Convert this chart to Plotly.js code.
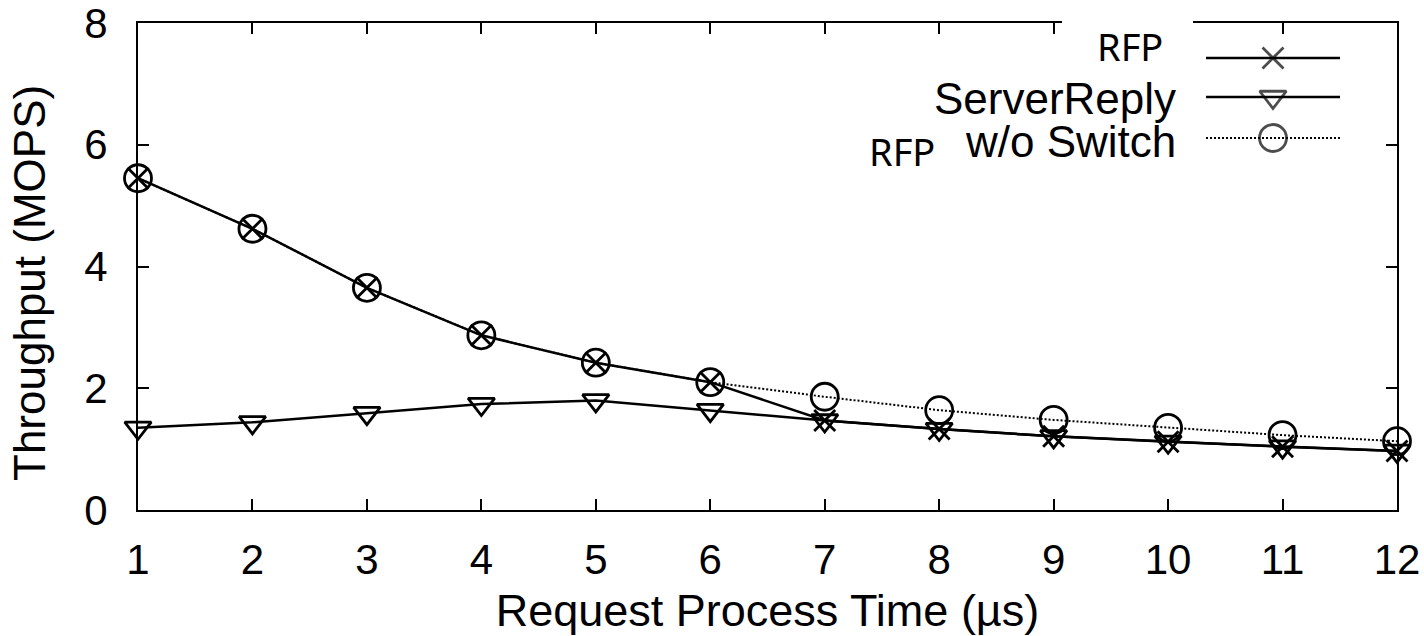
<!DOCTYPE html>
<html>
<head>
<meta charset="utf-8">
<script src="https://cdn.plot.ly/plotly-3.0.1.min.js"></script>
<style>html,body{margin:0;padding:0;background:#fff;}#chart{width:1424px;height:636px;}</style>
</head>
<body>
<div id="chart"></div>
<script>
// ---- data ----
const processTime = [1, 2, 3, 4, 5, 6, 7, 8, 9, 10, 11, 12];
const rfp         = [5.45, 4.62, 3.65, 2.87, 2.42, 2.10, 1.47, 1.33, 1.21, 1.12, 1.04, 0.97];
const serverReply = [1.35, 1.44, 1.59, 1.74, 1.80, 1.64, 1.47, 1.33, 1.21, 1.12, 1.04, 0.97];
const woSwitch    = [5.45, 4.62, 3.65, 2.87, 2.42, 2.10, 1.86, 1.64, 1.48, 1.35, 1.23, 1.13];
const yTicks = [0, 2, 4, 6, 8];
const seriesNames = ['RFP', 'ServerReply', 'w/o Switch'];
const xTitle = 'Request Process Time (\u00b5s)';
const yTitle = 'Throughput (MOPS)';

// ---- layout geometry (pixels) ----
const W = 1424, H = 636;
const M = {l: 138, r: 27, t: 23, b: 126};
const plotW = W - M.l - M.r, plotH = H - M.t - M.b;
const px = x => (x - M.l) / plotW;          // pixel -> paper x
const py = y => (H - M.b - y) / plotH;      // pixel -> paper y

const FONT = 'Liberation Sans, Arial, Helvetica, sans-serif';
const OVER = 'Noto Sans, Open Sans, sans-serif';

const styles = [
  {symbol: 'x-thin-open', size: 21, dash: 'solid', lw: 2.5},
  {symbol: 'triangle-down-open', size: 23, dash: 'solid', lw: 2.5},
  {symbol: 'circle-open', size: 27, dash: '2px,2px', lw: 2}
];
const MLW = 2.8;
const seriesData = [rfp, serverReply, woSwitch];

const traces = [];
[2, 0, 1].forEach(i => {
  traces.push({
    x: processTime, y: seriesData[i], name: seriesNames[i],
    type: 'scatter', mode: 'lines+markers', cliponaxis: false,
    line: {color: '#000', width: styles[i].lw, dash: styles[i].dash},
    marker: {symbol: styles[i].symbol, size: styles[i].size, color: '#000',
             line: {color: '#000', width: MLW}},
    showlegend: false
  });
});

// custom key (text on the left, sample on the right), pixel-space overlay axes
const keyRows = [58, 97, 138];
const keyX0 = 1206, keyX1 = 1340, keyXm = 1273;
keyRows.forEach((ry, i) => {
  traces.push({
    x: [keyX0, keyXm, keyX1], y: [ry, ry, ry], xaxis: 'x2', yaxis: 'y2',
    type: 'scatter', mode: 'lines+markers', cliponaxis: false, showlegend: false,
    hoverinfo: 'skip',
    line: {color: '#000', width: styles[i].lw, dash: styles[i].dash},
    marker: {symbol: styles[i].symbol, size: [0, styles[i].size, 0], color: '#000',
             line: {color: '#000', width: MLW}}
  });
});

const axisCommon = {
  showline: true, linecolor: '#000', linewidth: 2, mirror: 'ticks',
  ticks: 'inside', ticklen: 11, tickwidth: 2, tickcolor: '#000',
  showgrid: false, zeroline: false, ticklabeloverflow: 'allow',
  tickfont: {family: FONT, size: 42, color: '#000'}
};

const layout = {
  width: W, height: H,
  margin: M,
  paper_bgcolor: '#fff', plot_bgcolor: '#fff',
  showlegend: false,
  font: {family: FONT, color: '#000'},
  xaxis: Object.assign({}, axisCommon, {
    range: [1, 12], tickvals: processTime, ticklabelstandoff: 12,
    title: {text: xTitle, font: {family: FONT, size: 45, color: '#000'}, standoff: 12}
  }),
  yaxis: Object.assign({}, axisCommon, {
    range: [0, 8], tickvals: yTicks, ticklabelstandoff: 20
  }),
  xaxis2: {overlaying: 'x', range: [M.l, W - M.r], visible: false, fixedrange: true},
  yaxis2: {overlaying: 'y', range: [H - M.b, M.t], visible: false, fixedrange: true},
  shapes: [
    {type: 'rect', xref: 'paper', yref: 'paper', layer: 'above',
     x0: px(1062), x1: px(1193), y0: py(0), y1: py(78),
     fillcolor: '#fff', line: {width: 0}},
    {type: 'rect', xref: 'paper', yref: 'paper', layer: 'above',
     x0: px(842), x1: px(952), y0: py(118), y1: py(180),
     fillcolor: '#fff', line: {width: 0}}
  ],
  annotations: [
    {xref: 'paper', yref: 'paper', x: px(30), y: py(283), text: yTitle, textangle: -90,
     showarrow: false, xanchor: 'center', yanchor: 'middle',
     font: {family: FONT, size: 44, color: '#000'}},
    {xref: 'paper', yref: 'paper', x: px(1130), y: py(46), text: seriesNames[0],
     showarrow: false, xanchor: 'center', yanchor: 'middle',
     font: {family: OVER, size: 38, color: '#000'}},
    {xref: 'paper', yref: 'paper', x: px(1178), y: py(99), text: seriesNames[1],
     showarrow: false, xanchor: 'right', yanchor: 'middle',
     font: {family: FONT, size: 44, color: '#000'}},
    {xref: 'paper', yref: 'paper', x: px(1178), y: py(141), text: seriesNames[2],
     showarrow: false, xanchor: 'right', yanchor: 'middle',
     font: {family: FONT, size: 44, color: '#000'}},
    {xref: 'paper', yref: 'paper', x: px(902), y: py(151), text: seriesNames[0],
     showarrow: false, xanchor: 'center', yanchor: 'middle',
     font: {family: OVER, size: 38, color: '#000'}}
  ]
};

Plotly.newPlot('chart', traces, layout, {staticPlot: true, displayModeBar: false});
</script>
</body>
</html>
